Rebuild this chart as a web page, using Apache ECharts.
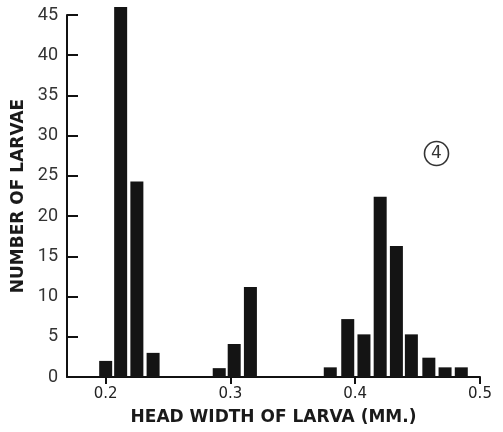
<!DOCTYPE html>
<html>
<head>
<meta charset="utf-8">
<script src="https://cdn.jsdelivr.net/npm/echarts@6/dist/echarts.min.js"></script>
<style>
html,body{margin:0;padding:0;background:#fff;}
#c{width:503px;height:432px;}
</style>
</head>
<body>
<div id="c"></div>
<script>
// Head width (mm) at bar centres
var headWidths = [0.200, 0.212, 0.225, 0.238, 0.291, 0.303, 0.316, 0.380, 0.394, 0.407, 0.420, 0.433, 0.445, 0.459, 0.472, 0.485];
// Number of larvae
var larvaeCounts = [2, 46, 24.3, 3, 1.1, 4.1, 11.2, 1.2, 7.2, 5.3, 22.4, 16.3, 5.3, 2.4, 1.2, 1.2];
var xTickValues = [0.2, 0.3, 0.4, 0.5];
var xTickLabels = ['0.2', '0.3', '0.4', '0.5'];
var yTickValues = [0, 5, 10, 15, 20, 25, 30, 35, 40, 45];
var panelLabel = '4';

var chart = echarts.init(document.getElementById('c'), null, {renderer: 'canvas'});
var barData = headWidths.map(function (x, i) { return [x, larvaeCounts[i]]; });
var font = 'DejaVu Sans';
chart.setOption({
  animation: false,
  backgroundColor: '#ffffff',
  grid: {left: 67, right: 23, top: 15, bottom: 55, containLabel: false},
  xAxis: {
    type: 'value',
    min: 0.169,
    max: 0.5,
    name: 'HEAD WIDTH OF LARVA (MM.)',
    nameLocation: 'middle',
    nameGap: 32,
    nameTextStyle: {fontFamily: font, fontSize: 17, fontWeight: 'bold', color: '#1a1a1a'},
    axisLine: {show: true, onZero: false, lineStyle: {color: '#111', width: 2}},
    axisTick: {show: true, inside: false, length: 7, customValues: xTickValues, lineStyle: {color: '#111', width: 2}},
    axisLabel: {
      customValues: xTickValues,
      margin: 10,
      fontFamily: font, fontSize: 15, color: '#222',
      formatter: function (v) { var i = xTickValues.indexOf(v); return i >= 0 ? xTickLabels[i] : ''; }
    },
    splitLine: {show: false}
  },
  yAxis: {
    type: 'value',
    min: 0,
    max: 45,
    interval: 5,
    name: 'NUMBER OF LARVAE',
    nameLocation: 'middle',
    nameGap: 37,
    nameTextStyle: {fontFamily: font, fontSize: 17, fontWeight: 'bold', color: '#1a1a1a'},
    axisLine: {show: true, lineStyle: {color: '#111', width: 2}},
    axisTick: {show: true, inside: true, length: 11, lineStyle: {color: '#111', width: 2}},
    axisLabel: {margin: 9, fontFamily: 'Roboto', fontSize: 18, color: '#333'},
    splitLine: {show: false}
  },
  series: [{
    type: 'bar',
    data: barData,
    barWidth: 13,
    clip: false,
    itemStyle: {color: '#141414'},
    z: 1
  }],
  graphic: [{
    type: 'group',
    left: 422,
    top: 139,
    children: [
      {type: 'circle', shape: {cx: 12, cy: 12, r: 12}, style: {fill: 'none', stroke: '#333', lineWidth: 1.6}},
      {type: 'text', x: 12, y: 12, style: {text: panelLabel, fontFamily: font, fontSize: 17, fill: '#333', align: 'center', verticalAlign: 'middle'}}
    ]
  }]
});
</script>
</body>
</html>
